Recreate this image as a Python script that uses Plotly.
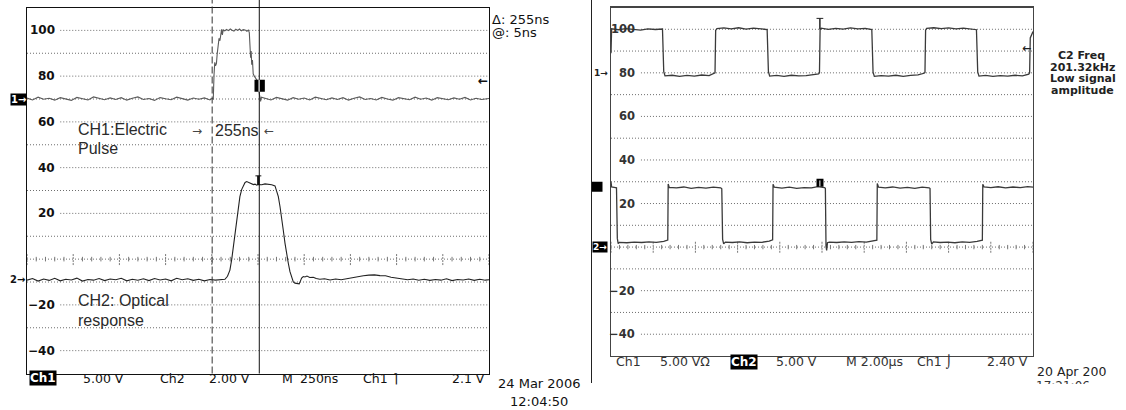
import plotly.graph_objects as go

W, H = 1126, 410

# ---------------- data: left scope (time in ns, screen units) ----------------
ch1_t = [0, 30, 60, 90, 120, 150, 180, 210, 240, 270, 300, 330, 360, 390, 420, 450, 480, 510,
         540, 570, 600, 630, 660, 690, 720, 750, 780, 810, 840, 870, 900, 930, 960, 990,
         1000, 1008, 1012, 1016, 1020, 1025, 1029, 1034, 1039, 1044, 1049, 1053, 1057, 1062,
         1070, 1080, 1090, 1100, 1110, 1120, 1130, 1140, 1150, 1160, 1170, 1180, 1190, 1198,
         1203, 1206, 1210, 1213, 1216, 1220, 1224, 1230, 1238, 1246, 1252, 1256, 1260, 1264, 1268,
         1290, 1320, 1350, 1380, 1410, 1440, 1470, 1500, 1530, 1560, 1590, 1620, 1650, 1680,
         1710, 1740, 1770, 1800, 1830, 1860, 1890, 1920, 1950, 1980, 2010, 2040, 2070, 2100,
         2130, 2160, 2190, 2220, 2250, 2280, 2310, 2340, 2370, 2400, 2430, 2460, 2500]
ch1_v = [70.4, 69.6, 70.8, 69.9, 70.3, 69.5, 70.6, 70.0, 69.4, 70.7, 70.1, 69.6, 70.9, 70.2, 69.7, 70.5, 69.8, 70.6,
         69.5, 70.3, 70.9, 69.8, 70.2, 69.4, 70.6, 70.1, 69.7, 70.8, 70.0, 69.5, 70.4, 69.9, 70.5, 69.6,
         70.2, 70.0, 80.5, 86.0, 84.5, 85.5, 89.5, 92.0, 96.5, 95.5, 99.5, 100.5, 98.0, 100.2,
         99.8, 100.4, 99.9, 100.6, 100.1, 99.7, 100.5, 100.0, 100.6, 99.8, 100.3, 100.2, 99.6, 100.1,
         99.0, 94.0, 88.0, 91.0, 85.0, 87.0, 81.0, 80.0, 79.0, 78.0, 75.0, 72.0, 70.5, 69.0, 70.8,
         70.2, 69.6, 70.7, 70.0, 69.5, 70.6, 69.9, 70.4, 69.6, 70.8, 70.1, 69.7, 70.5, 69.8,
         70.6, 69.5, 70.3, 70.9, 69.8, 70.2, 69.6, 70.7, 70.0, 69.5, 70.6, 70.2, 69.7, 70.8,
         69.9, 70.4, 69.5, 70.6, 70.1, 69.7, 70.5, 69.9, 70.7, 69.6, 70.3, 69.8, 70.2]

ch2_t = [0, 30, 60, 90, 120, 150, 180, 210, 240, 270, 300, 330, 360, 390, 420, 450, 480, 510,
         540, 570, 600, 630, 660, 690, 720, 750, 780, 810, 840, 870, 900, 930, 960, 990, 1020, 1050,
         1071, 1085, 1098, 1108, 1117, 1126, 1135, 1144, 1152, 1162, 1171, 1180, 1189, 1198, 1207,
         1216, 1225, 1234, 1243, 1252, 1261, 1270, 1288, 1306, 1324, 1342, 1351, 1360, 1369, 1378,
         1387, 1396, 1405, 1414, 1423, 1432, 1441, 1450, 1462, 1473, 1480, 1486, 1495, 1504, 1515,
         1530, 1549, 1565, 1585, 1610, 1640, 1670, 1700, 1730, 1760, 1790, 1820, 1850, 1880, 1910,
         1940, 1970, 2000, 2030, 2060, 2090, 2120, 2150, 2180, 2210, 2240, 2270, 2300, 2330, 2360,
         2390, 2420, 2450, 2480, 2500]
ch2_v = [-9.2, -8.5, -9.6, -8.7, -9.3, -8.4, -9.5, -8.8, -9.1, -8.3, -9.6, -8.9, -9.2, -8.5, -9.4, -8.7, -9.0, -8.4,
         -9.5, -8.8, -9.2, -8.6, -9.4, -8.5, -9.1, -8.7, -9.5, -8.4, -9.0, -8.6, -9.3, -8.8, -9.5, -8.9, -9.2, -9.0,
         -8.8, -7.5, -4.8, 0.0, 5.4, 12.0, 18.6, 23.5, 27.3, 30.5, 32.4, 33.5, 33.9, 33.5, 33.4,
         33.0, 32.6, 32.8, 32.3, 32.6, 32.4, 32.5, 32.9, 32.8, 32.5, 32.0, 30.0, 27.3, 23.0, 18.6,
         12.5, 7.0, 2.0, -1.8, -5.5, -8.3, -10.0, -10.5, -10.8, -10.8, -9.5, -8.3, -7.6, -7.8, -7.4,
         -8.0, -7.9, -8.5, -8.8, -8.6, -9.1, -8.7, -9.0, -8.5, -8.0, -7.6, -7.3, -7.0, -6.9, -7.2,
         -7.3, -7.9, -8.3, -8.6, -9.0, -8.7, -9.2, -8.8, -9.3, -8.9, -9.2, -8.6, -9.4, -8.9, -9.1,
         -8.7, -9.3, -8.8, -9.2, -9.0]

left_cursors = [1002, 1257]          # dashed / solid cursor positions (ns)
left_trigger = 78                    # trigger level arrow
left_t_marker = 1252

# ---------------- data: right scope (time in us) ----------------
r1_t = [0, 0.03, 0.35, 0.7, 1.05, 1.4, 1.75, 2.1, 2.44, 2.5, 2.56,
        2.9, 3.25, 3.6, 3.95, 4.3, 4.65, 4.88, 4.93, 4.96, 5.02,
        5.35, 5.7, 6.05, 6.4, 6.75, 7.1, 7.40, 7.46, 7.52,
        7.85, 8.2, 8.55, 8.9, 9.25, 9.6, 9.84, 9.88, 9.91, 9.96,
        10.3, 10.65, 11.0, 11.35, 11.7, 12.05, 12.36, 12.42, 12.48,
        12.8, 13.15, 13.5, 13.85, 14.2, 14.55, 14.84, 14.88, 14.91, 14.96,
        15.3, 15.65, 16.0, 16.35, 16.7, 17.05, 17.32, 17.38, 17.44,
        17.75, 18.1, 18.45, 18.8, 19.15, 19.5, 19.8, 19.84, 19.87, 20.0]
r1_v = [89.0, 100.2, 99.8, 100.3, 100.0, 99.6, 100.2, 99.9, 100.1, 80.5, 78.6,
        78.9, 78.4, 78.8, 78.5, 79.0, 78.7, 79.6, 80.0, 99.5, 100.3,
        100.6, 100.2, 100.7, 100.1, 100.5, 100.3, 99.9, 80.6, 78.5,
        78.8, 78.4, 78.9, 78.6, 78.7, 79.0, 79.5, 80.0, 99.8, 100.5,
        100.0, 100.4, 100.1, 100.6, 100.2, 100.4, 99.9, 80.3, 78.4,
        78.7, 78.5, 78.9, 78.4, 78.8, 79.1, 79.8, 80.2, 99.6, 100.4,
        100.7, 100.3, 100.6, 100.2, 100.5, 100.1, 99.8, 80.4, 78.5,
        78.8, 78.4, 78.7, 78.5, 78.9, 78.6, 79.4, 80.0, 96.0, 99.0]

r2_t = [0, 0.03, 0.15, 0.26, 0.30, 0.34, 0.4,
        0.75, 1.1, 1.45, 1.8, 2.15, 2.5, 2.65, 2.69, 2.71, 2.76,
        3.1, 3.45, 3.8, 4.15, 4.5, 4.85, 5.2, 5.25, 5.29, 5.34, 5.42,
        5.75, 6.1, 6.45, 6.8, 7.15, 7.5, 7.63, 7.66, 7.68, 7.74,
        8.1, 8.45, 8.8, 9.15, 9.5, 9.8, 10.12, 10.16, 10.19, 10.22, 10.26, 10.35,
        10.7, 11.05, 11.4, 11.75, 12.1, 12.45, 12.57, 12.6, 12.62, 12.68,
        13.0, 13.35, 13.7, 14.05, 14.4, 14.75, 15.08, 15.12, 15.15, 15.2, 15.28,
        15.6, 15.95, 16.3, 16.65, 17.0, 17.35, 17.57, 17.6, 17.62, 17.68,
        18.0, 18.35, 18.7, 19.05, 19.4, 19.75, 20.0]
r2_v = [30.0, 27.6, 27.4, 27.2, 4.0, 1.6, 2.2,
        2.0, 2.3, 2.1, 2.4, 2.2, 2.6, 3.0, 3.2, 29.0, 27.4,
        27.2, 27.6, 27.0, 27.4, 27.1, 27.5, 27.2, 26.8, 3.5, 1.5, 2.3,
        2.1, 2.4, 2.0, 2.3, 2.2, 2.7, 3.1, 3.3, 28.8, 27.5,
        27.1, 27.5, 27.0, 27.3, 27.2, 27.8, 27.3, 27.0, 0.5, -1.5, 2.0, 2.3,
        2.1, 2.4, 2.2, 2.5, 2.3, 2.8, 3.1, 3.2, 29.2, 27.5,
        27.2, 27.6, 27.1, 27.4, 27.0, 27.5, 27.2, 26.9, 3.5, 1.4, 2.4,
        2.1, 2.3, 2.0, 2.4, 2.2, 2.6, 3.0, 3.2, 28.9, 27.6,
        27.3, 27.7, 27.2, 27.6, 27.3, 27.8, 27.5]

right_trigger = 91
right_t_marker = 9.9

# ---------------- screen grid ----------------
grid_levels = [100, 90, 80, 70, 60, 50, 40, 30, 20, 10, -10, -20, -30, -40]
label_levels = [100, 80, 60, 40, 20, -20, -40]
label_text = ["100", "80", "60", "40", "20", "\u221220", "\u221240"]
y_range = [-50, 110]


def px(x):
    return x / W


def py(y):
    return 1 - y / H


fig = go.Figure()

GRID = "#6e6e6e"


def add_grid(xa, ya, xmax, label_end, n_div):
    xs, ys = [], []
    for lv in grid_levels:
        x0 = label_end if lv in label_levels else 0
        xs += [x0, xmax, None]
        ys += [lv, lv, None]
    xs += [0, xmax, None]
    ys += [0, 0, None]
    fig.add_trace(go.Scatter(x=xs, y=ys, mode="lines", xaxis=xa, yaxis=ya,
                             line=dict(color=GRID, width=1, dash="1px,2px"), hoverinfo="skip"))
    step = xmax / (n_div * 5)
    mx, my, Mx, My = [], [], [], []
    for i in range(n_div * 5 + 1):
        t = i * step
        if i % 5 == 0:
            Mx += [t, t, None]
            My += [-2.6, 2.6, None]
        else:
            mx += [t, t, None]
            my += [-1.0, 1.0, None]
    fig.add_trace(go.Scatter(x=mx, y=my, mode="lines", xaxis=xa, yaxis=ya,
                             line=dict(color="#777", width=1), hoverinfo="skip"))
    fig.add_trace(go.Scatter(x=Mx, y=My, mode="lines", xaxis=xa, yaxis=ya,
                             line=dict(color="#777", width=1, dash="2px,1px"), hoverinfo="skip"))


add_grid("x", "y", 2500, 180, 10)
add_grid("x2", "y2", 20, 1.42, 10)

# traces
fig.add_trace(go.Scatter(x=ch1_t, y=ch1_v, mode="lines", xaxis="x", yaxis="y",
                         line=dict(color="#5a5a5a", width=1.1), hoverinfo="skip"))
fig.add_trace(go.Scatter(x=ch2_t, y=ch2_v, mode="lines", xaxis="x", yaxis="y",
                         line=dict(color="#222", width=1.1), hoverinfo="skip"))
fig.add_trace(go.Scatter(x=r1_t, y=r1_v, mode="lines", xaxis="x2", yaxis="y2",
                         line=dict(color="#3a3a3a", width=1.3), hoverinfo="skip"))
fig.add_trace(go.Scatter(x=r2_t, y=r2_v, mode="lines", xaxis="x2", yaxis="y2",
                         line=dict(color="#3a3a3a", width=1.3), hoverinfo="skip"))

# clipped time stamp of the right screenshot
fig.add_trace(go.Scatter(x=[6], y=[-2.5], mode="text", text=["17:21:06"], textposition="middle right",
                         xaxis="x3", yaxis="y3", cliponaxis=True,
                         textfont=dict(family="DejaVu Sans", size=12, color="#333"), hoverinfo="skip"))

shapes = []
annotations = []

# cursors on left scope
shapes.append(dict(type="line", xref="x", yref="paper", x0=left_cursors[0], x1=left_cursors[0],
                   y0=py(373.5), y1=1, line=dict(color="#333", width=1, dash="7px,3px")))
shapes.append(dict(type="line", xref="x", yref="paper", x0=left_cursors[1], x1=left_cursors[1],
                   y0=py(373.5), y1=1, line=dict(color="#111", width=1)))
# trigger marks left
shapes.append(dict(type="rect", xref="x", yref="y", x0=left_t_marker - 21, x1=left_t_marker + 35,
                   y0=73.2, y1=78.4, fillcolor="black", line=dict(width=0)))
shapes.append(dict(type="line", xref="x", yref="y", x0=left_t_marker + 4, x1=left_t_marker + 4,
                   y0=73.2, y1=78.4, line=dict(color="white", width=1.2)))
shapes.append(dict(type="line", xref="x", yref="y", x0=left_t_marker - 16, x1=left_t_marker + 16,
                   y0=36.4, y1=36.4, line=dict(color="#111", width=1)))
shapes.append(dict(type="line", xref="x", yref="y", x0=left_t_marker, x1=left_t_marker,
                   y0=36.4, y1=32.4, line=dict(color="#111", width=2.5)))
# trigger marks right
shapes.append(dict(type="line", xref="x2", yref="y2", x0=right_t_marker - 0.16, x1=right_t_marker + 0.16,
                   y0=105, y1=105, line=dict(color="#222", width=1)))
shapes.append(dict(type="line", xref="x2", yref="y2", x0=right_t_marker, x1=right_t_marker,
                   y0=105, y1=100, line=dict(color="#222", width=1.5)))
shapes.append(dict(type="rect", xref="x2", yref="y2", x0=right_t_marker - 0.16, x1=right_t_marker + 0.17,
                   y0=27.7, y1=31.4, fillcolor="black", line=dict(width=0)))
shapes.append(dict(type="line", xref="x2", yref="y2", x0=right_t_marker, x1=right_t_marker,
                   y0=27.9, y1=30.6, line=dict(color="white", width=1)))
# separator line between screenshots
shapes.append(dict(type="line", xref="paper", yref="paper", x0=px(591.5), x1=px(591.5),
                   y0=py(383), y1=1, line=dict(color="#222", width=1)))
# ref marker square (right)
shapes.append(dict(type="rect", xref="paper", yref="y2", x0=px(592), x1=px(602.5),
                   y0=25.4, y1=30.0, fillcolor="black", line=dict(width=0)))

LBL = dict(family="DejaVu Sans", size=12, color="#222")


def ann(text, x, y, xref="paper", yref="paper", xanchor="left", font=None, **kw):
    d = dict(text=text, x=x, y=y, xref=xref, yref=yref, xanchor=xanchor, yanchor="middle",
             showarrow=False, font=font or LBL, borderpad=0)
    d.update(kw)
    annotations.append(d)


# level labels
for lv, tx in zip(label_levels, label_text):
    ann("<b>%s</b>" % tx, px(56), lv, yref="y", xanchor="right",
        font=dict(family="DejaVu Sans", size=12, color="#111"))
    ann("<b>%s</b>" % tx, px(636), lv, yref="y2", xanchor="right",
        font=dict(family="DejaVu Sans", size=11.5, color="#333"))

# left scope markers / texts
ann("<b>1\u2192</b>", px(10), 70, yref="y", font=dict(family="DejaVu Sans", size=10, color="white"),
    bgcolor="black")
ann("<b>2\u2192</b>", px(9), -9, yref="y", font=dict(family="DejaVu Sans", size=10, color="#111"))
ann("<b>\u2190</b>", px(489), left_trigger, yref="y", xanchor="right",
    font=dict(family="DejaVu Sans", size=12, color="#111"))
ann("\u0394: 255ns", px(491), py(19.5), font=dict(family="DejaVu Sans", size=13, color="#111"))
ann("@: 5ns", px(491), py(33), font=dict(family="DejaVu Sans", size=13, color="#111"))

ARIAL = dict(family="Liberation Sans", size=16, color="#2a2a2a")
ann("CH1:Electric", px(77), py(129.5), font=ARIAL)
ann("Pulse", px(77), py(148.5), font=ARIAL)
ann("CH2: Optical", px(77), py(300), font=ARIAL)
ann("response", px(77), py(320), font=ARIAL)
ann("\u2192", px(191), py(131), font=dict(family="DejaVu Sans", size=12, color="#444"))
ann("255ns", px(213.5), py(130), font=ARIAL)
ann("\u2190", px(263), py(131), font=dict(family="DejaVu Sans", size=12, color="#444"))

# left bottom status row
BOT = dict(family="DejaVu Sans", size=12.5, color="#111")
ann("<b>Ch1</b>", px(28.5), py(378), font=dict(family="DejaVu Sans", size=12, color="white"), bgcolor="black")
ann("5.00 V", px(82), py(378), font=BOT)
ann("Ch2", px(159), py(378), font=BOT)
ann("2.00 V", px(208), py(378), font=BOT)
ann("M", px(281), py(378), font=BOT)
ann("250ns", px(299), py(378), font=BOT)
ann("Ch1", px(362), py(378), font=BOT)
ann("\u2309", px(392), py(378), font=BOT)
ann("2.1 V", px(486), py(378), xanchor="right", font=BOT)
ann("24 Mar 2006", px(539), py(383.5), xanchor="center", font=dict(family="DejaVu Sans", size=13, color="#111"))
ann("12:04:50", px(539), py(401), xanchor="center", font=dict(family="DejaVu Sans", size=13, color="#111"))

# right scope markers / texts
ann("<b>1\u2192</b>", px(592.5), 80, yref="y2", font=dict(family="DejaVu Sans", size=9, color="#222"))
ann("<b>2\u2192</b>", px(592), 0, yref="y2", font=dict(family="DejaVu Sans", size=9, color="white"),
    bgcolor="black")
ann("<b>\u2190</b>", px(1032), right_trigger, yref="y2", xanchor="right",
    font=dict(family="DejaVu Sans", size=11, color="#222"))
FR = dict(family="DejaVu Sans", size=11, color="#222")
for txt, xx, yy in [("<b>C2 Freq</b>", 1057, 55), ("<b>201.32kHz</b>", 1049, 67),
                    ("<b>Low signal</b>", 1049, 79), ("<b>amplitude</b>", 1050, 91)]:
    ann(txt, px(xx), py(yy), font=FR)

BOT2 = dict(family="DejaVu Sans", size=12.5, color="#333")
ann("Ch1", px(614.5), py(361.5), font=BOT2)
ann("5.00 V\u03a9", px(659), py(361.5), font=BOT2)
ann("<b>Ch2</b>", px(729.5), py(361.5), font=dict(family="DejaVu Sans", size=12, color="white"), bgcolor="black")
ann("5.00 V", px(775), py(361.5), font=BOT2)
ann("M 2.00\u00b5s", px(844.5), py(361.5), font=BOT2)
ann("Ch1 \u2321", px(916), py(361.5), font=BOT2)
ann("2.40 V", px(1029), py(361.5), xanchor="right", font=BOT2)
ann("20 Apr 200", px(1036), py(371.5), font=dict(family="DejaVu Sans", size=12.5, color="#222"))

axis_common = dict(showgrid=False, zeroline=False, showticklabels=False, ticks="",
                   fixedrange=True)

fig.update_layout(
    width=W, height=H,
    margin=dict(l=0, r=0, t=0, b=0),
    paper_bgcolor="white", plot_bgcolor="white",
    showlegend=False,
    xaxis=dict(domain=[px(27), px(489)], range=[0, 2500], showline=True, mirror=True,
               linecolor="#111", linewidth=1, anchor="y", **axis_common),
    yaxis=dict(domain=[py(373.5), py(7.5)], range=y_range, showline=True, mirror=True,
               linecolor="#111", linewidth=1, anchor="x", **axis_common),
    xaxis2=dict(domain=[px(611), px(1033)], range=[0, 20], showline=True, mirror=True,
                linecolor="#444", linewidth=1.3, anchor="y2", **axis_common),
    yaxis2=dict(domain=[py(356), py(7.5)], range=y_range, showline=True, mirror=True,
                linecolor="#444", linewidth=1.3, anchor="x2", **axis_common),
    xaxis3=dict(domain=[px(1030), 1.0], range=[0, 96], showline=False, anchor="y3", **axis_common),
    yaxis3=dict(domain=[py(384), py(372)], range=[0, 12], showline=False, anchor="x3", **axis_common),
    shapes=shapes,
    annotations=annotations,
)

fig.write_html("out.html", config={"staticPlot": True},
               post_script="document.body.style.margin='0';document.body.style.overflow='hidden';")
